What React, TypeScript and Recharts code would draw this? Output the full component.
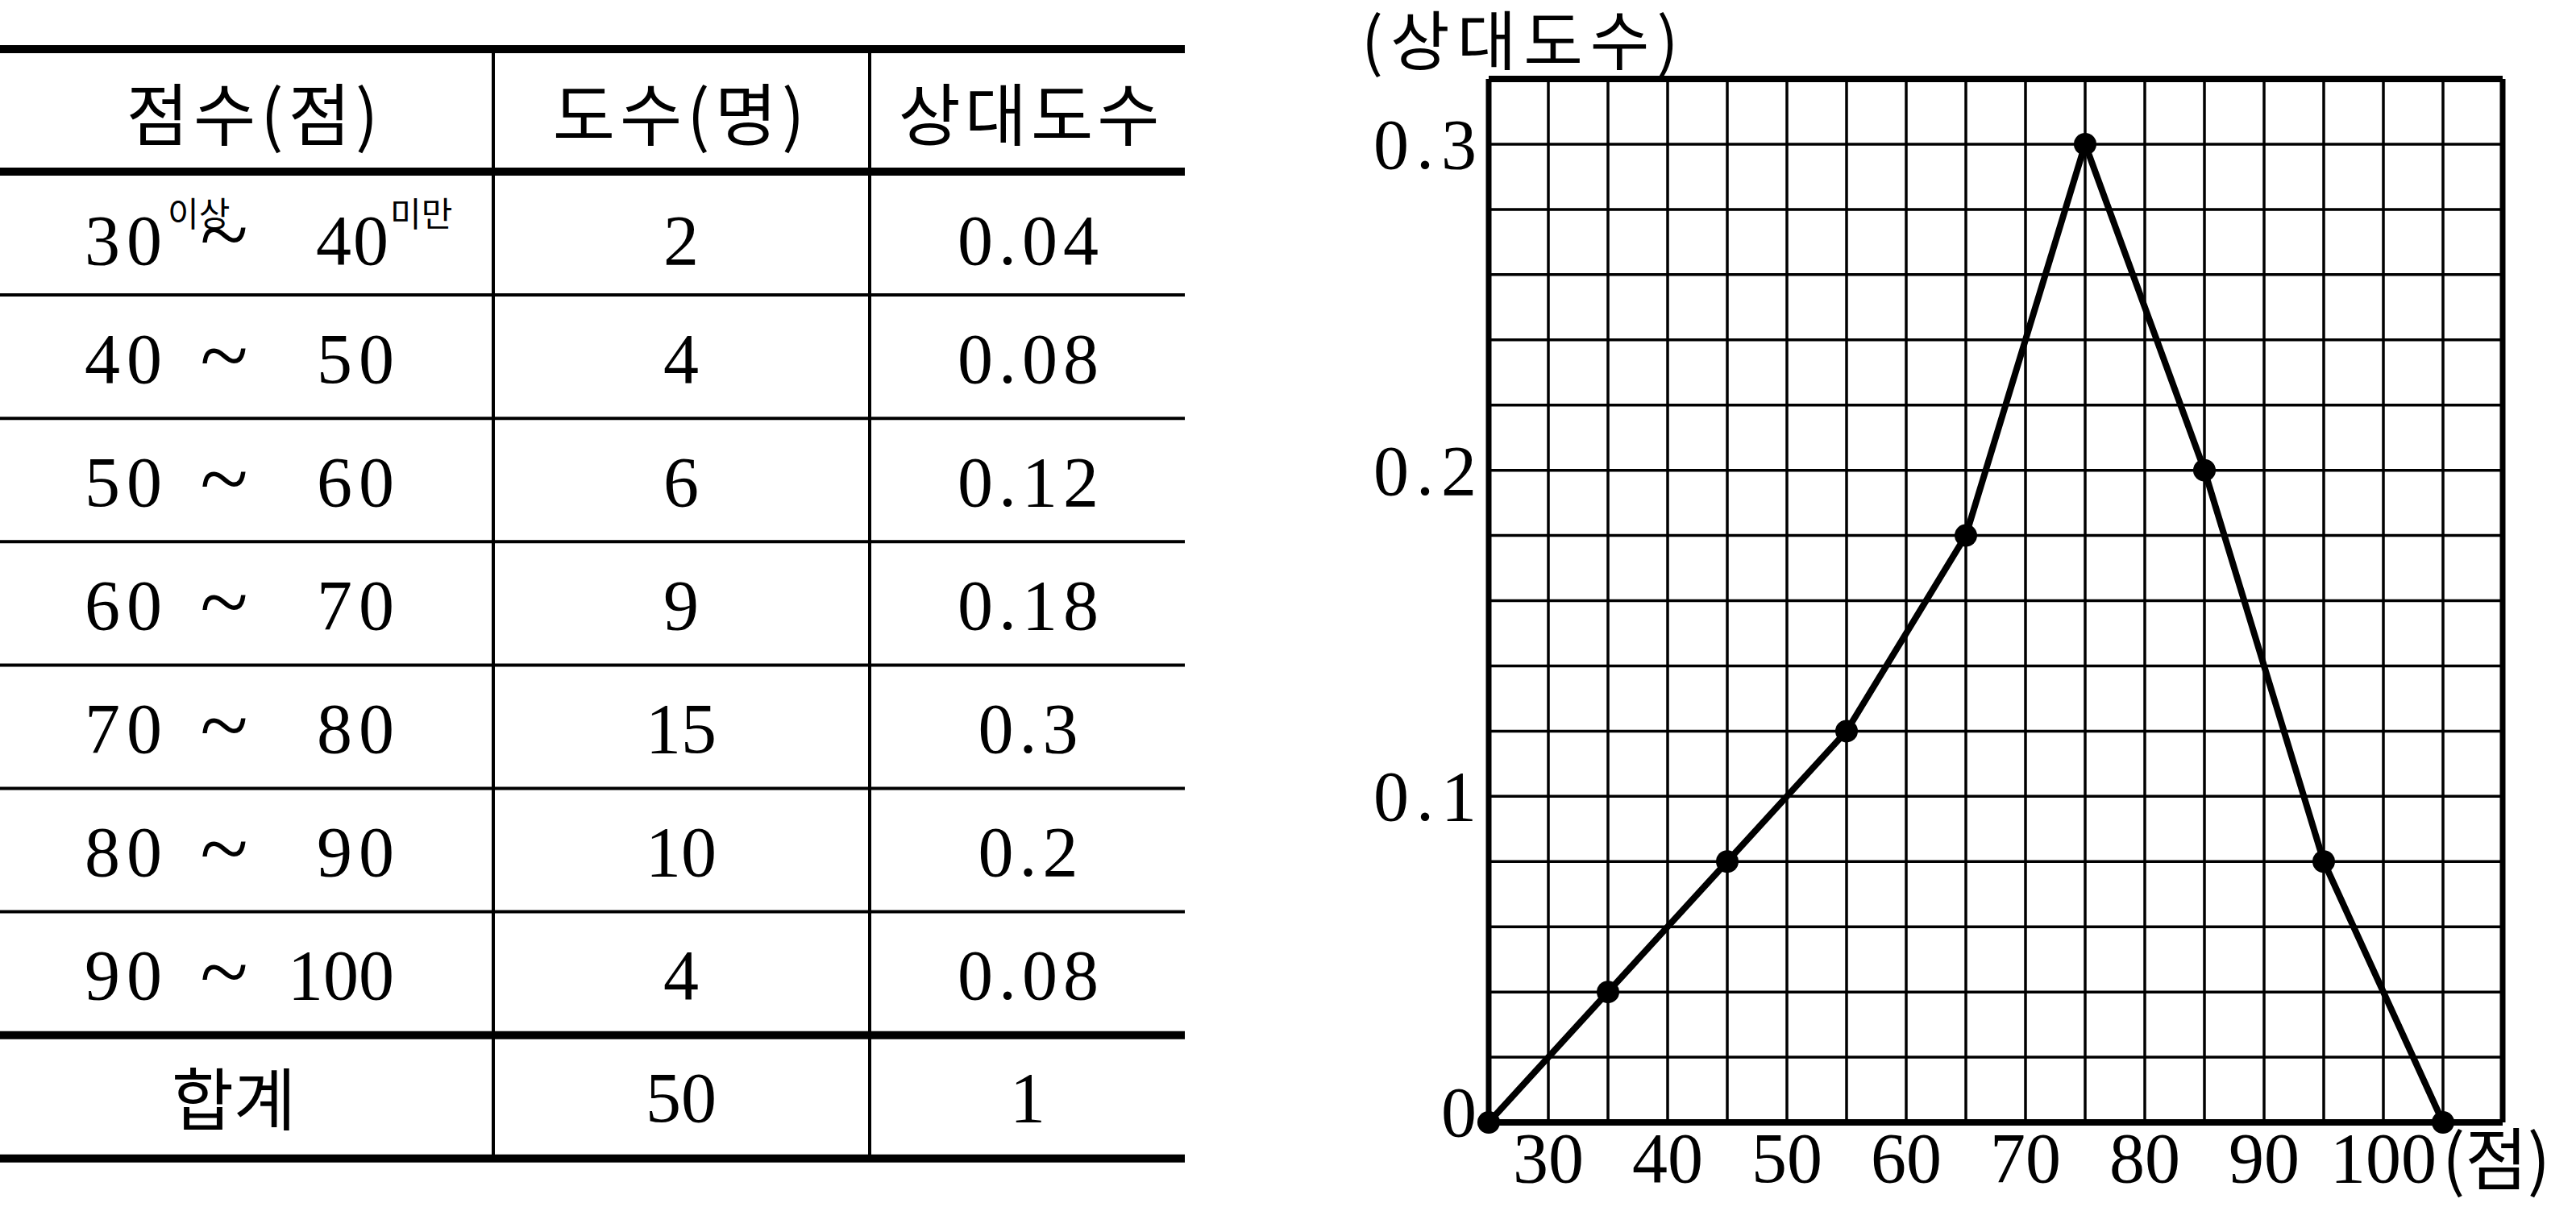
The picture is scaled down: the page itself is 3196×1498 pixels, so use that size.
import React from 'react';
import { LineChart, Line, XAxis, YAxis, CartesianGrid, ReferenceLine } from 'recharts';

// table data
const headers = ['점수(점)', '도수(명)', '상대도수'];
const classFrom = ['30', '40', '50', '60', '70', '80', '90'];
const classTo = ['40', '50', '60', '70', '80', '90', '100'];
const counts = [2, 4, 6, 9, 15, 10, 4];
const relFreqs = [0.04, 0.08, 0.12, 0.18, 0.3, 0.2, 0.08];
const totalLabel = '합계';
const totalCount = 50;
const totalRel = 1;

// polygon data (class marks, relative frequency)
const classMarks = [25, 35, 45, 55, 65, 75, 85, 95, 105];
const polyValues = [0, 0.04, 0.08, 0.12, 0.18, 0.3, 0.2, 0.08, 0];
const xLabels = [30, 40, 50, 60, 70, 80, 90, 100];
const yLabels = [0, 0.1, 0.2, 0.3];
const yTitle = '(상대도수)';
const xTitle = '(점)';

const chartData = classMarks.map((x, i) => ({ x, y: polyValues[i] }));
const xGrid = Array.from({ length: 18 }, (_, i) => 25 + i * 5);
const yGrid = Array.from({ length: 17 }, (_, i) => i / 50);

const SERIF = '"Liberation Serif", "DejaVu Serif", serif';
const KR = '"Noto Sans CJK KR", "Noto Sans CJK SC", sans-serif';

const XTick = (props: any) => {
  const { x, y, payload } = props;
  if (!xLabels.includes(payload.value)) return null;
  return (
    <text x={x} y={y + 74} textAnchor="middle" fontFamily={SERIF} fontSize={88} fill="#000">
      {payload.value}
    </text>
  );
};

const YTick = (props: any) => {
  const { x, y, payload } = props;
  const v = payload.value;
  if (!yLabels.some((l) => Math.abs(l - v) < 1e-9)) return null;
  const isZero = Math.abs(v) < 1e-9;
  return (
    <text
      x={x - 15 + (isZero ? 0 : 9)}
      y={y + (isZero ? 17 : 30)}
      textAnchor="end"
      fontFamily={SERIF}
      fontSize={88}
      letterSpacing={isZero ? 0 : 9}
      fill="#000"
    >
      {String(Math.round(v * 10) / 10)}
    </text>
  );
};

const Table = () => {
  const rowH = 153.1;
  const top = 213;
  const lines = [61, top, ...counts.map((_, i) => top + (i + 1) * rowH), top + 8 * rowH];
  const thick = (i: number) => i === 0 || i === 1 || i >= lines.length - 2;
  const colX = [306, 845, 1275];
  return (
    <svg width={1480} height={1498} style={{ position: 'absolute', left: 0, top: 0 }}>
      {lines.map((y, i) => (
        <line key={i} x1={0} x2={1470} y1={y} y2={y} stroke="#000" strokeWidth={thick(i) ? 10 : 4} />
      ))}
      {[612, 1079].map((x) => (
        <line key={x} x1={x} x2={x} y1={61} y2={lines[lines.length - 1]} stroke="#000" strokeWidth={4} />
      ))}
      {headers.map((h, i) => (
        <text key={h} x={colX[i] + (i === 0 ? 10 : i === 2 ? 4 : 0)} y={174} textAnchor="middle" fontFamily={KR} fontSize={84} letterSpacing={i < 2 ? 6 : 5} fill="#000">
          {h}
        </text>
      ))}
      {counts.map((c, i) => {
        const base = top + i * rowH + 76.5 + (i === 0 ? 38 : 32);
        const right = classTo[i];
        return (
          <g key={i} fontFamily={SERIF} fontSize={88} fill="#000">
            <text x={105} y={base} letterSpacing={8}>{classFrom[i]}</text>
            {i === 0 && (
              <text x={208} y={base - 47} fontFamily={KR} fontSize={42}>이상</text>
            )}
            <text x={278} y={base + (i === 0 ? 0 : 3)} textAnchor="middle" fontSize={110}>~</text>
            {i === 0 ? (
              <>
                <text x={392} y={base} letterSpacing={2}>{right}</text>
                <text x={484} y={base - 47} fontFamily={KR} fontSize={42}>미만</text>
              </>
            ) : (
              <text x={right.length > 2 ? 489 : 497} y={base} textAnchor="end" letterSpacing={right.length > 2 ? 0 : 8}>
                {right}
              </text>
            )}
            <text x={845} y={base} textAnchor="middle">{c}</text>
            <text x={1279} y={base} textAnchor="middle" letterSpacing={7}>{String(relFreqs[i])}</text>
          </g>
        );
      })}
      <text x={290} y={1396} textAnchor="middle" fontFamily={KR} fontSize={84} fill="#000">{totalLabel}</text>
      <text x={845} y={1392} textAnchor="middle" fontFamily={SERIF} fontSize={88} fill="#000">{totalCount}</text>
      <text x={1275} y={1392} textAnchor="middle" fontFamily={SERIF} fontSize={88} fill="#000">{totalRel}</text>
    </svg>
  );
};

export default function App() {
  return (
    <div style={{ position: 'absolute', left: 0, top: 0, width: 3196, height: 1498, background: '#fff' }}>
      <Table />
      <div style={{ position: 'absolute', left: 1650, top: 0 }}>
        <LineChart width={1546} height={1498} data={chartData} margin={{ top: 98, right: 91, left: 47, bottom: 5 }}>
          <CartesianGrid stroke="#000" strokeWidth={3.5} />
          <XAxis
            dataKey="x"
            type="number"
            domain={[25, 110]}
            ticks={xGrid}
            interval={0}
            height={100}
            axisLine={false}
            tickLine={false}
            tickSize={0}
            tickMargin={0}
            tick={<XTick />}
          />
          <YAxis
            type="number"
            domain={[0, 0.32]}
            ticks={yGrid}
            interval={0}
            width={150}
            axisLine={false}
            tickLine={false}
            tickSize={0}
            tickMargin={0}
            tick={<YTick />}
          />
          <ReferenceLine x={25} stroke="#000" strokeWidth={7} />
          <ReferenceLine x={110} stroke="#000" strokeWidth={7} />
          <ReferenceLine y={0} stroke="#000" strokeWidth={8} />
          <ReferenceLine y={0.32} stroke="#000" strokeWidth={8} />
          <Line
            type="linear"
            dataKey="y"
            stroke="#000"
            strokeWidth={8}
            dot={{ r: 14, fill: '#000', stroke: '#000', strokeWidth: 0 }}
            isAnimationActive={false}
          />
        </LineChart>
      </div>
      <svg width={3196} height={1498} style={{ position: 'absolute', left: 0, top: 0, pointerEvents: 'none' }}>
        <text x={1689} y={80} fontFamily={KR} fontSize={80} letterSpacing={9} fill="#000">{yTitle}</text>
        <text x={3030} y={1470} fontFamily={KR} fontSize={84} fill="#000">{xTitle}</text>
      </svg>
    </div>
  );
}
